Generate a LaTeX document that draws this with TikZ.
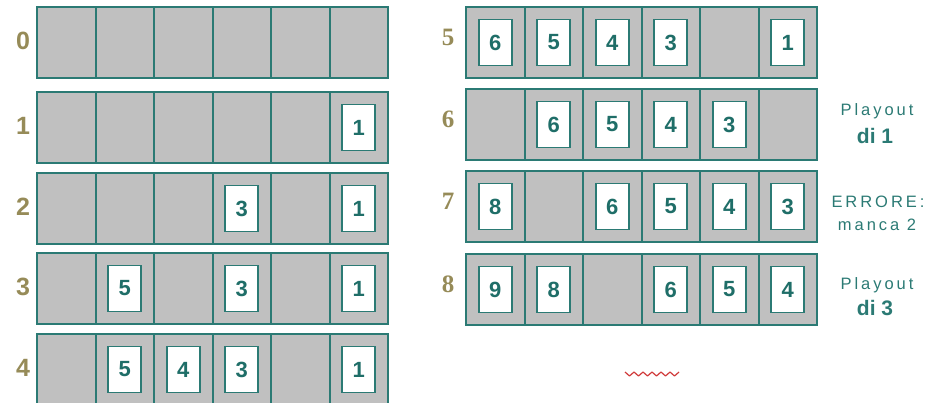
\documentclass[tikz,border=0pt]{standalone}
\usepackage{fontspec}
\setmainfont{Liberation Sans}
\newfontfamily\spacedfont[LetterSpace=18]{Liberation Sans}
\newfontfamily\seriffont{Liberation Serif}
\definecolor{cellfill}{HTML}{C0C0C0}
\definecolor{tealline}{HTML}{2B7A74}
\definecolor{tealtext}{HTML}{1F6E68}
\definecolor{olivelbl}{HTML}{968B58}
\definecolor{squig}{HTML}{D03A3A}
\begin{document}
\begin{tikzpicture}[x=1pt,y=-1pt,
  cell/.style={draw=tealline, line width=2pt, fill=cellfill, minimum width=58.5pt, minimum height=71pt, inner sep=0pt, outer sep=0pt},
  card/.style={draw=tealline, line width=1.6pt, fill=white, minimum width=33pt, minimum height=46pt, inner sep=0pt, text=tealtext, font=\fontsize{22}{22}\selectfont\bfseries},
  leftlbl/.style={text=olivelbl, font=\fontsize{25}{25}\selectfont\bfseries, inner sep=0pt},
  rightlbl/.style={text=olivelbl, font=\fontsize{25}{25}\selectfont\seriffont\bfseries, inner sep=0pt},
  note/.style={text=tealline, font=\fontsize{16.5}{16.5}\selectfont\spacedfont, inner sep=0pt},
  notebold/.style={text=tealline, font=\fontsize{21}{21}\selectfont\bfseries, inner sep=0pt}]
\useasboundingbox (0,0) rectangle (935,403);
\clip (0,0) rectangle (935,403);
% left block
\foreach \r/\top in {0/7,1/92,2/173,3/253,4/334} {
  \node[leftlbl] (lab\r) at (23,\top+34) {\r};
  \foreach \c in {1,...,6}
    \node[cell] (R\r-\c) at ({37+58.5*(\c-0.5)},{\top+35.5}) {};
}
% right block
\foreach \r/\top in {5/7,6/89,7/171,8/254} {
  \node[rightlbl] (lab\r) at (448,\top+30.5) {\r};
  \foreach \c in {1,...,6}
    \node[cell] (R\r-\c) at ({466+58.5*(\c-0.5)},{\top+35.5}) {};
}
% cards
\foreach \r/\c/\v in {1/6/1, 2/4/3, 2/6/1, 3/2/5, 3/4/3, 3/6/1, 4/2/5, 4/3/4, 4/4/3, 4/6/1,
  5/1/6, 5/2/5, 5/3/4, 5/4/3, 5/6/1, 6/2/6, 6/3/5, 6/4/4, 6/5/3,
  7/1/8, 7/3/6, 7/4/5, 7/5/4, 7/6/3, 8/1/9, 8/2/8, 8/4/6, 8/5/5, 8/6/4}
  \node[card] (K\r-\c) at (R\r-\c) {\v};
% notes
\node[note] (p1) at (877,111) {Playout};
\node[notebold] (d1) at (875,136) {di 1};
\node[note] (e1) at (878,202) {ERRORE:};
\node[note] (m2) at (877,225) {manca 2};
\node[note] (p3) at (877,285) {Playout};
\node[notebold] (d3) at (875,308) {di 3};
% squiggle
\coordinate (sq) at (625,372);
\draw[squig, line width=1.2pt, line join=round] (sq) \foreach \i in {1,...,6} { -- ++(4.5,4) -- ++(4.5,-4) };
\end{tikzpicture}
\end{document}
